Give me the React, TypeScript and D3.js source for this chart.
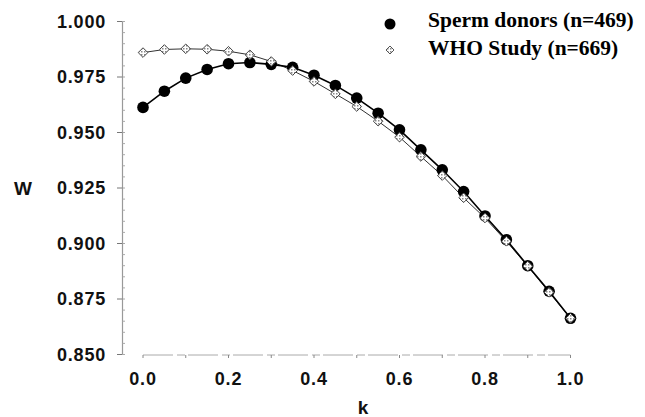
import React from "react";
import * as d3 from "d3";

const kValues = [0, 0.05, 0.1, 0.15, 0.2, 0.25, 0.3, 0.35, 0.4, 0.45, 0.5, 0.55, 0.6, 0.65, 0.7, 0.75, 0.8, 0.85, 0.9, 0.95, 1.0];
const donors = [0.9613, 0.9686, 0.9745, 0.9784, 0.9810, 0.9815, 0.9807, 0.9794, 0.9758, 0.9712, 0.9655, 0.9587, 0.9512, 0.9422, 0.9332, 0.9234, 0.9124, 0.9017, 0.8900, 0.8785, 0.8663];
const who = [0.9860, 0.9874, 0.9877, 0.9875, 0.9866, 0.9850, 0.9820, 0.9779, 0.9730, 0.9674, 0.9617, 0.9551, 0.9479, 0.9392, 0.9306, 0.9206, 0.9115, 0.9010, 0.8898, 0.8780, 0.8663];
const yTicks = [0.85, 0.875, 0.9, 0.925, 0.95, 0.975, 1.0];
const xTicks = [0, 0.2, 0.4, 0.6, 0.8, 1.0];
const seriesNames = ["Sperm donors (n=469)", "WHO Study (n=669)"];

export default function App() {
  const W = 645, H = 417;
  const x = d3.scaleLinear().domain([0, 1]).range([143, 570.5]);
  const y = d3.scaleLinear().domain([0.85, 1.0]).range([354.5, 21.5]);
  const line = d3.line<number>().x((_, i) => x(kValues[i])).y((d) => y(d));
  const minorY = d3.range(0.85, 1.0001, 0.005);
  const minorX = d3.range(0, 1.0001, 0.1);
  const tickFont = "'Liberation Sans', Arial, sans-serif";
  const serif = "'Liberation Serif', 'Times New Roman', serif";
  const diamond = (cx: number, cy: number, r: number) =>
    `M${cx},${cy - r}L${cx + r},${cy}L${cx},${cy + r}L${cx - r},${cy}Z`;
  return (
    <svg width={W} height={H} style={{ position: "absolute", left: 0, top: 0, background: "#fff" }}>
      <defs>
        <pattern id="hatch" width="3" height="3" patternUnits="userSpaceOnUse">
          <rect width="3" height="3" fill="#fff" />
          <rect width="1.5" height="1.5" fill="#888" />
        </pattern>
      </defs>
      {/* y axis */}
      <line x1={122.5} x2={122.5} y1={y(1.0)} y2={y(0.85)} stroke="#999" strokeWidth={1.2} />
      {yTicks.map((t) => (
        <g key={t}>
          <line x1={117} x2={122.5} y1={y(t)} y2={y(t)} stroke="#777" />
          <text x={106} y={y(t)} dy="0.36em" textAnchor="end" fontFamily={tickFont} fontWeight="bold" fontSize={18} fill="#111" style={{ letterSpacing: "0.8px" }}>
            {d3.format(".3f")(t)}
          </text>
        </g>
      ))}
      {minorY.map((t, i) => (
        <line key={i} x1={122.5} x2={125} y1={y(t)} y2={y(t)} stroke="#aaa" />
      ))}
      {/* x axis */}
      <line x1={x(0)} x2={x(1)} y1={355} y2={355} stroke="#aaa" strokeWidth={1} strokeDasharray="30 4 8 3" />
      {minorX.map((t, i) => (
        <line key={i} x1={x(t)} x2={x(t)} y1={355} y2={358} stroke="#888" />
      ))}
      {xTicks.map((t) => (
        <text key={t} x={x(t)} y={379} dy="0.36em" textAnchor="middle" fontFamily={tickFont} fontWeight="bold" fontSize={18} fill="#111" style={{ letterSpacing: "0.8px" }}>
          {d3.format(".1f")(t)}
        </text>
      ))}
      <text x={363} y={407} dy="0.36em" textAnchor="middle" fontFamily={tickFont} fontWeight="bold" fontSize={19} fill="#111">k</text>
      <text x={23} y={188} dy="0.36em" textAnchor="middle" fontFamily={tickFont} fontWeight="bold" fontSize={19} fill="#111">W</text>
      {/* lines */}
      <path d={line(who) || ""} fill="none" stroke="#333" strokeWidth={1} />
      <path d={line(donors) || ""} fill="none" stroke="#000" strokeWidth={1.6} />
      {donors.map((v, i) => (
        <circle key={i} cx={x(kValues[i])} cy={y(v)} r={5.8} fill="#000" />
      ))}
      {who.map((v, i) => (
        <path key={i} d={diamond(x(kValues[i]), y(v), 4.8)} fill="url(#hatch)" stroke="#444" strokeWidth={1} />
      ))}
      {/* legend */}
      <circle cx={390} cy={24} r={5.5} fill="#000" />
      <path d={diamond(390, 50, 4)} fill="url(#hatch)" stroke="#555" strokeWidth={1} />
      <text x={428} y={27} fontFamily={serif} fontWeight="bold" fontSize={21.5} fill="#000">{seriesNames[0]}</text>
      <text x={428} y={55} fontFamily={serif} fontWeight="bold" fontSize={21.5} fill="#000">{seriesNames[1]}</text>
    </svg>
  );
}
